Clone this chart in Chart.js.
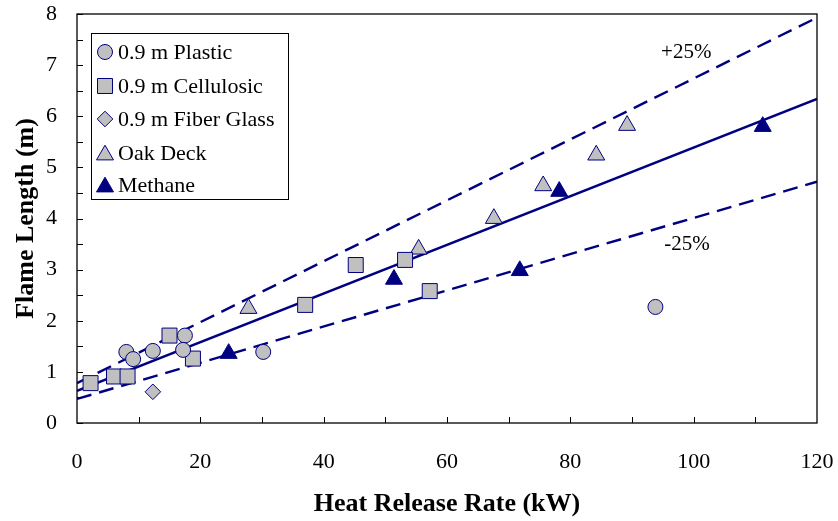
<!DOCTYPE html>
<html>
<head>
<meta charset="utf-8">
<script src="https://cdn.jsdelivr.net/npm/chart.js@4/dist/chart.umd.min.js"></script>
<style>
  html, body { margin: 0; padding: 0; background: #fff; }
  #wrap { width: 838px; height: 521px; }
</style>
</head>
<body>
<div id="wrap"><canvas id="flameChart"></canvas></div>
<script>
// data
const plasticX = [8.0, 9.1, 12.3, 17.5, 17.2, 30.2, 93.8];
const plasticY = [1.39, 1.25, 1.41, 1.71, 1.43, 1.39, 2.27];

const celluloseX = [2.2, 6.0, 8.2, 15.0, 18.8, 37.0, 45.2, 53.2, 57.2];
const celluloseY = [0.78, 0.91, 0.91, 1.71, 1.26, 2.31, 3.09, 3.19, 2.58];

const fiberX = [12.3];
const fiberY = [0.61];

const oakX = [27.8, 55.4, 67.6, 75.6, 84.2, 89.2];
const oakY = [2.24, 3.40, 4.00, 4.64, 5.24, 5.82];

const methaneX = [24.6, 51.4, 71.8, 78.2, 111.2];
const methaneY = [1.36, 2.81, 2.98, 4.53, 5.80];

// correlation line and +/-25% bands (end points)
const lineX = [0, 120];
const fitY = [0.63, 6.34];
const upperY = [0.78, 7.93];
const lowerY = [0.47, 4.72];

const bandLabels = ["+25%", "-25%"];
const bandLabelX = [98.8, 98.9];
const bandLabelY = [7.24, 3.50];

const NAVY = "#000080";
const GRAY = "#c0c0c0";
const SERIF = "'Liberation Serif', 'Times New Roman', serif";

const pts = (xs, ys) => xs.map((x, i) => ({ x: x, y: ys[i] }));

Chart.defaults.font.family = SERIF;
Chart.defaults.color = "#000";

const seriesDefs = [
  { label: "0.9 m Plastic", xs: plasticX, ys: plasticY, style: "circle", r: 7.5, fill: GRAY },
  { label: "0.9 m Cellulosic", xs: celluloseX, ys: celluloseY, style: "rect", r: 10.6, fill: GRAY },
  { label: "0.9 m Fiber Glass", xs: fiberX, ys: fiberY, style: "rectRot", r: 7.8, fill: GRAY },
  { label: "Oak Deck", xs: oakX, ys: oakY, style: "triangle", r: 9.8, fill: GRAY },
  { label: "Methane", xs: methaneX, ys: methaneY, style: "triangle", r: 9.8, fill: NAVY }
];

const pointSets = seriesDefs.map(s => ({
  label: s.label,
  data: pts(s.xs, s.ys),
  pointStyle: s.style,
  pointRadius: s.r,
  pointHoverRadius: s.r,
  backgroundColor: s.fill,
  borderColor: NAVY,
  borderWidth: 1,
  showLine: false
}));

const lineSet = (ys, dash) => ({
  label: "",
  data: pts(lineX, ys),
  showLine: true,
  pointRadius: 0,
  borderColor: NAVY,
  borderWidth: 2.4,
  borderDash: dash,
  fill: false
});

// inward ticks, frame, legend box and band labels
const decor = {
  id: "decor",
  afterDraw(chart) {
    const { ctx, chartArea: a, scales: { x, y } } = chart;
    ctx.save();
    ctx.strokeStyle = "#000";
    ctx.lineWidth = 1.3;
    ctx.strokeRect(a.left, a.top, a.right - a.left, a.bottom - a.top);

    ctx.lineWidth = 1;
    ctx.beginPath();
    for (let v = 0; v <= 8; v += 0.5) {
      const py = Math.round(y.getPixelForValue(v)) + 0.5;
      ctx.moveTo(a.left, py);
      ctx.lineTo(a.left + 6, py);
    }
    for (let v = 10; v < 120; v += 10) {
      const px = Math.round(x.getPixelForValue(v)) + 0.5;
      ctx.moveTo(px, a.bottom);
      ctx.lineTo(px, a.bottom - 6);
    }
    ctx.stroke();

    // band labels
    ctx.fillStyle = "#000";
    ctx.font = "21px " + SERIF;
    ctx.textAlign = "center";
    ctx.textBaseline = "middle";
    bandLabels.forEach((t, i) => {
      ctx.fillText(t, x.getPixelForValue(bandLabelX[i]), y.getPixelForValue(bandLabelY[i]));
    });

    // legend
    ctx.fillStyle = "#fff";
    ctx.fillRect(91, 33, 197, 166);
    ctx.strokeStyle = "#000";
    ctx.lineWidth = 1;
    ctx.strokeRect(91.5, 33.5, 197, 166);
    const rowY = [52, 86, 119, 153, 185];
    ctx.font = "22px " + SERIF;
    ctx.textAlign = "left";
    seriesDefs.forEach((s, i) => {
      ctx.fillStyle = s.fill;
      ctx.strokeStyle = NAVY;
      ctx.lineWidth = 1;
      const cy = s.style === "triangle" ? rowY[i] + 2 : rowY[i];
      Chart.helpers.drawPoint(ctx, { pointStyle: s.style, radius: s.r, rotation: 0, borderWidth: 1 }, 105, cy);
      ctx.fillStyle = "#000";
      ctx.fillText(s.label, 118, rowY[i] + 1);
    });
    ctx.restore();
  }
};

new Chart(document.getElementById("flameChart"), {
  type: "scatter",
  data: {
    datasets: [
      ...pointSets,
      lineSet(fitY, []),
      lineSet(upperY, [15, 8]),
      lineSet(lowerY, [15, 8])
    ]
  },
  options: {
    responsive: true,
    maintainAspectRatio: false,
    animation: false,
    layout: { padding: { top: 14, right: 21, left: 0, bottom: 0 } },
    plugins: { legend: { display: false }, tooltip: { enabled: false } },
    scales: {
      x: {
        type: "linear",
        min: 0,
        max: 120,
        grid: { display: false, drawTicks: false },
        border: { display: false },
        ticks: { stepSize: 20, padding: 26, font: { size: 22 }, color: "#000" },
        title: {
          display: true,
          text: "Heat Release Rate (kW)",
          font: { size: 26, weight: "bold" },
          color: "#000",
          padding: { top: 0, bottom: 1 }
        },
        afterFit(scale) {
          scale.height = 98;
          scale.paddingLeft = 0;
          scale.paddingRight = 0;
        }
      },
      y: {
        min: 0,
        max: 8,
        grid: { display: false, drawTicks: false },
        border: { display: false },
        ticks: { stepSize: 1, padding: 20, font: { size: 22 }, color: "#000" },
        title: {
          display: true,
          text: "Flame Length (m)",
          font: { size: 26, weight: "bold" },
          color: "#000",
          padding: { top: 11, bottom: 0 }
        },
        afterFit(scale) {
          scale.width = 77;
          scale.paddingTop = 0;
          scale.paddingBottom = 0;
        }
      }
    }
  },
  plugins: [decor]
});
</script>
</body>
</html>
